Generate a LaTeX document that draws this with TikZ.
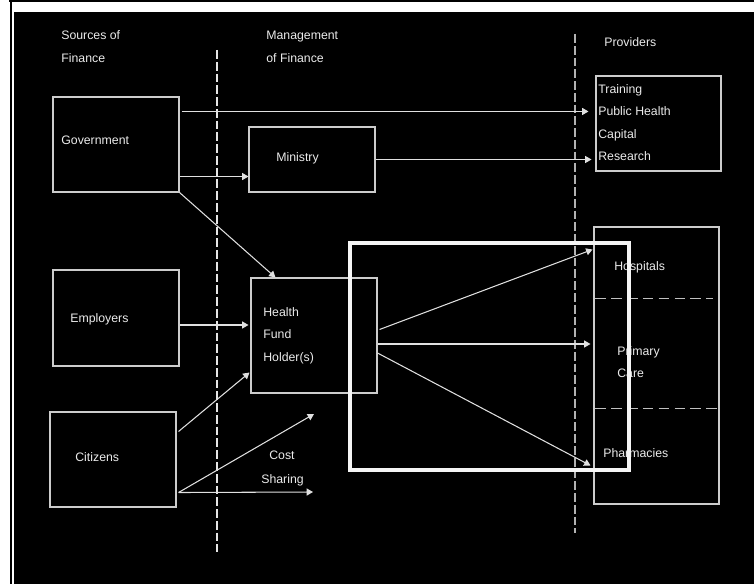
\documentclass[tikz,border=0pt]{standalone}
\usepackage{fontspec}
\setmainfont{Liberation Sans}
\usetikzlibrary{arrows.meta,calc}

\tikzset{
  box/.style={draw=white!80!black, line width=0.6pt, inner sep=0pt},
  arr/.style={draw=white!88!black, line width=0.6pt, -{Triangle[length=3.6pt,width=4pt]}},
  lbl/.style={text=white!92!black, inner sep=0pt, anchor=base west, font=\fontsize{7}{8}\selectfont},
  divider/.style={line width=0.6pt, dash pattern=on 5pt off 1.7pt},
}

\begin{document}
\begin{tikzpicture}[x=0.02cm, y=-0.02cm]
\useasboundingbox (0,0) rectangle (754,584);

% frame of the page
\fill[white] (0,0) rectangle (754,584);
\fill[black] (14,12) rectangle (754,584);
\draw[black, line width=1.1pt] (9,1) -- (754,1);
\draw[black, line width=1.1pt] (11,0) -- (11,584);

% columns
\draw[divider, draw=white!90!black] (217,50) -- (217,552);
\draw[divider, draw=white!70!black] (575,34) -- (575,533);

\node[lbl] (srcA) at (61,39.5) {Sources of};
\node[lbl] (srcB) at (61,62.5) {Finance};
\node[lbl] (mgtA) at (266,39.5) {Management};
\node[lbl] (mgtB) at (266,62.5) {of Finance};
\node[lbl] (prv) at (604,46.5) {Providers};

% boxes
\node[box, minimum width=2.52cm, minimum height=1.9cm] (gov) at (116,144.5) {};
\node[box, minimum width=2.52cm, minimum height=1.3cm] (ministry) at (312,159.5) {};
\node[box, minimum width=2.52cm, minimum height=2.3cm] (health) at (314,335.5) {};
\node[box, minimum width=2.52cm, minimum height=1.92cm] (employers) at (116,318) {};
\node[box, minimum width=2.52cm, minimum height=1.9cm] (citizens) at (113,459.5) {};
\node[box, minimum width=2.5cm, minimum height=1.9cm] (training) at (658.5,123.5) {};
\node[box, minimum width=2.5cm, minimum height=5.54cm] (prov) at (656.5,365.5) {};

\draw[line width=0.6pt, draw=white!75!black, dash pattern=on 6pt off 3pt]
  ($(prov.north west)+(2,72)$) -- ($(prov.north east)+(-7,72)$);
\draw[line width=0.6pt, draw=white!75!black, dash pattern=on 6pt off 3pt]
  ($(prov.north west)+(2,182)$) -- ($(prov.north east)+(2,182)$);

% labels
\node[lbl] (govT) at (61,144.5) {Government};
\node[lbl] (minT) at (276,161.5) {Ministry};
\node[lbl] (trA) at (598,93.5) {Training};
\node[lbl] (trB) at (598,115.5) {Public Health};
\node[lbl] (trC) at (598,138.5) {Capital};
\node[lbl] (trD) at (598,160.5) {Research};
\node[lbl] (empT) at (70,322.5) {Employers};
\node[lbl] (hfA) at (263,316.5) {Health};
\node[lbl] (hfB) at (263,338.5) {Fund};
\node[lbl] (hfC) at (263,361) {Holder(s)};
\node[lbl] (citT) at (75,461.5) {Citizens};
\node[lbl] (costA) at (269,459.5) {Cost};
\node[lbl] (costB) at (261,483.5) {Sharing};
\node[lbl] (hosT) at (614,270.5) {Hospitals};
\node[lbl] (priA) at (617,355.5) {Primary};
\node[lbl] (priB) at (617,377.5) {Care};
\node[lbl] (phaT) at (603,457.5) {Pharmacies};

% flows
\coordinate (g1) at ($(gov.north east)+(2,15)$);
\draw[arr] (g1) -- ($(training.west |- g1)+(-7,0)$);
\coordinate (g2) at ($(gov.south east)+(0,-16)$);
\draw[arr] (g2) -- (ministry.west |- g2);
\draw[arr] (ministry.east) -- ($(training.west |- ministry.east)+(-4,0)$);
\draw[arr] (gov.south east) -- ($(health.north west)+(25,0)$);
\coordinate (e1) at ($(employers.east)+(0,7)$);
\draw[arr] (e1) -- ($(health.west |- e1)+(-2,0)$);
\draw[arr] ($(citizens.north east)+(2,20)$) -- ($(health.south west)+(-1,-21)$);
\coordinate (c1) at ($(citizens.south east)+(2,-15)$);
\coordinate (costUp) at (314,414);
\coordinate (costRt) at (313,492);
\draw[arr] (c1) -- (costUp);
\draw[arr] (c1) -- (costRt);

\draw[arr] ($(health.east)+(2,-6)$) -- ($(prov.north west)+(-1,23)$);
\coordinate (h2) at ($(health.east)+(0,8.5)$);
\draw[arr] (h2) -- ($(prov.west |- h2)+(-3,0)$);
\draw[arr] ($(health.east)+(0,17.5)$) -- ($(prov.south west)+(-3,-39)$);

% highlight
\node[draw=white!96!black, line width=2.3pt, inner sep=0pt, minimum width=5.58cm, minimum height=4.54cm] (focus) at (489.5,356.5) {};

\end{tikzpicture}
\end{document}
